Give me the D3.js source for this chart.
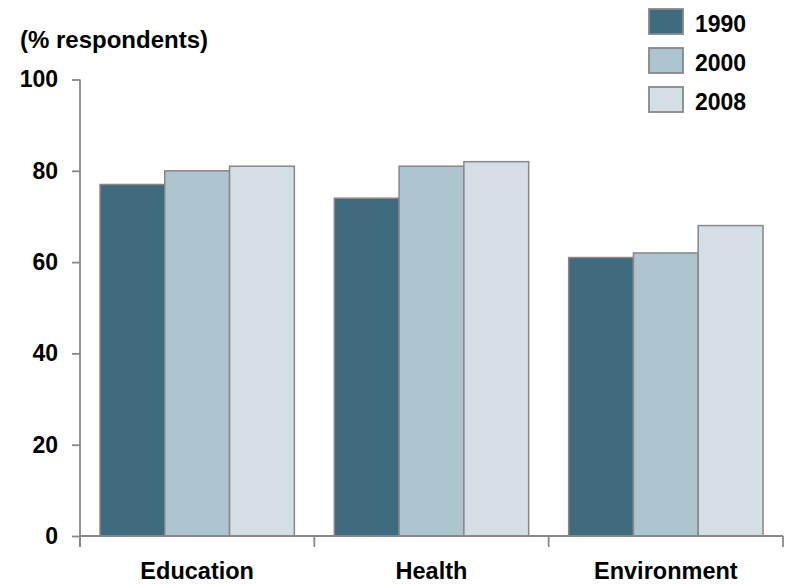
<!DOCTYPE html>
<html>
<head>
<meta charset="utf-8">
<script src="https://cdn.jsdelivr.net/npm/d3@7"></script>
<style>
  html, body { margin: 0; padding: 0; background: #fff; }
  svg { display: block; font-family: "Liberation Sans", Arial, sans-serif; font-weight: bold; }
</style>
</head>
<body>
<div id="chart"></div>
<script>
// Share of respondents by area, surveyed in three years
const categories = ["Education", "Health", "Environment"];
const seriesNames = ["1990", "2000", "2008"];
const values1990 = [77, 74, 61];
const values2000 = [80, 81, 62];
const values2008 = [81, 82, 68];
const yTicks = [0, 20, 40, 60, 80, 100];
const axisTitle = "(% respondents)";
const colors = ["#3e6b7e", "#adc5cf", "#d3dfe5"];

const seriesValues = [values1990, values2000, values2008];
const W = 785, H = 584;
const plotLeft = 80, plotRight = 783, plotBase = 536, plotTop = 79.5;

const svg = d3.select("#chart").append("svg")
  .attr("width", W).attr("height", H);

const x = d3.scaleBand().domain(categories).range([plotLeft, plotRight]).padding(0);
const xSub = d3.scaleBand().domain(seriesNames).range([20, x.bandwidth() - 20]).padding(0);
const y = d3.scaleLinear().domain([0, 100]).range([plotBase, plotTop]);
const color = d3.scaleOrdinal().domain(seriesNames).range(colors);

const axisColor = "#888888";

// Bars
const rows = categories.map((c, i) => ({
  cat: c,
  vals: seriesNames.map((s, j) => ({ s, v: seriesValues[j][i] }))
}));
const groups = svg.append("g").selectAll("g").data(rows).join("g")
  .attr("transform", d => `translate(${x(d.cat)},0)`);
groups.selectAll("rect").data(d => d.vals).join("rect")
  .attr("x", d => xSub(d.s))
  .attr("y", d => y(d.v))
  .attr("width", xSub.bandwidth())
  .attr("height", d => y(0) - y(d.v))
  .attr("fill", d => color(d.s))
  .attr("stroke", axisColor)
  .attr("stroke-width", 1.5);

// Y axis
const yAxis = svg.append("g").attr("transform", `translate(${plotLeft},0)`)
  .call(d3.axisLeft(y).tickValues(yTicks).tickSize(8).tickSizeOuter(0).tickPadding(14));
yAxis.select(".domain").attr("stroke", axisColor).attr("stroke-width", 1.8)
  .attr("d", `M0,${plotTop}V${plotBase + 11}`);
yAxis.selectAll(".tick line").attr("stroke", axisColor).attr("stroke-width", 1.8);
yAxis.selectAll(".tick text")
  .attr("fill", "#000").style("font-size", "23px").style("font-weight", "bold")
  .style("font-family", "'Liberation Sans', Arial, sans-serif");

// X axis with ticks at the category boundaries
const xAxis = svg.append("g");
xAxis.append("line")
  .attr("x1", plotLeft).attr("x2", plotRight).attr("y1", plotBase).attr("y2", plotBase)
  .attr("stroke", axisColor).attr("stroke-width", 1.8);
const bounds = categories.map(c => x(c)).concat([x.range()[1]]);
xAxis.selectAll("line.tk").data(bounds).join("line").attr("class", "tk")
  .attr("x1", d => d).attr("x2", d => d)
  .attr("y1", plotBase).attr("y2", plotBase + 11)
  .attr("stroke", axisColor).attr("stroke-width", 1.8);
xAxis.selectAll("text").data(categories).join("text")
  .attr("x", d => x(d) + x.bandwidth() / 2)
  .attr("y", 579)
  .attr("text-anchor", "middle")
  .style("font-size", "23.5px")
  .text(d => d);

// Axis title
svg.append("text").attr("x", 20).attr("y", 48)
  .style("font-size", "24px").text(axisTitle);

// Legend
const legend = svg.append("g").selectAll("g").data(seriesNames).join("g")
  .attr("transform", (d, i) => `translate(649,${9 + i * 39})`);
legend.append("rect")
  .attr("width", 34).attr("height", 25)
  .attr("fill", d => color(d))
  .attr("stroke", axisColor).attr("stroke-width", 1.8);
legend.append("text")
  .attr("x", 46).attr("y", 23)
  .style("font-size", "23px")
  .text(d => d);
</script>
</body>
</html>
